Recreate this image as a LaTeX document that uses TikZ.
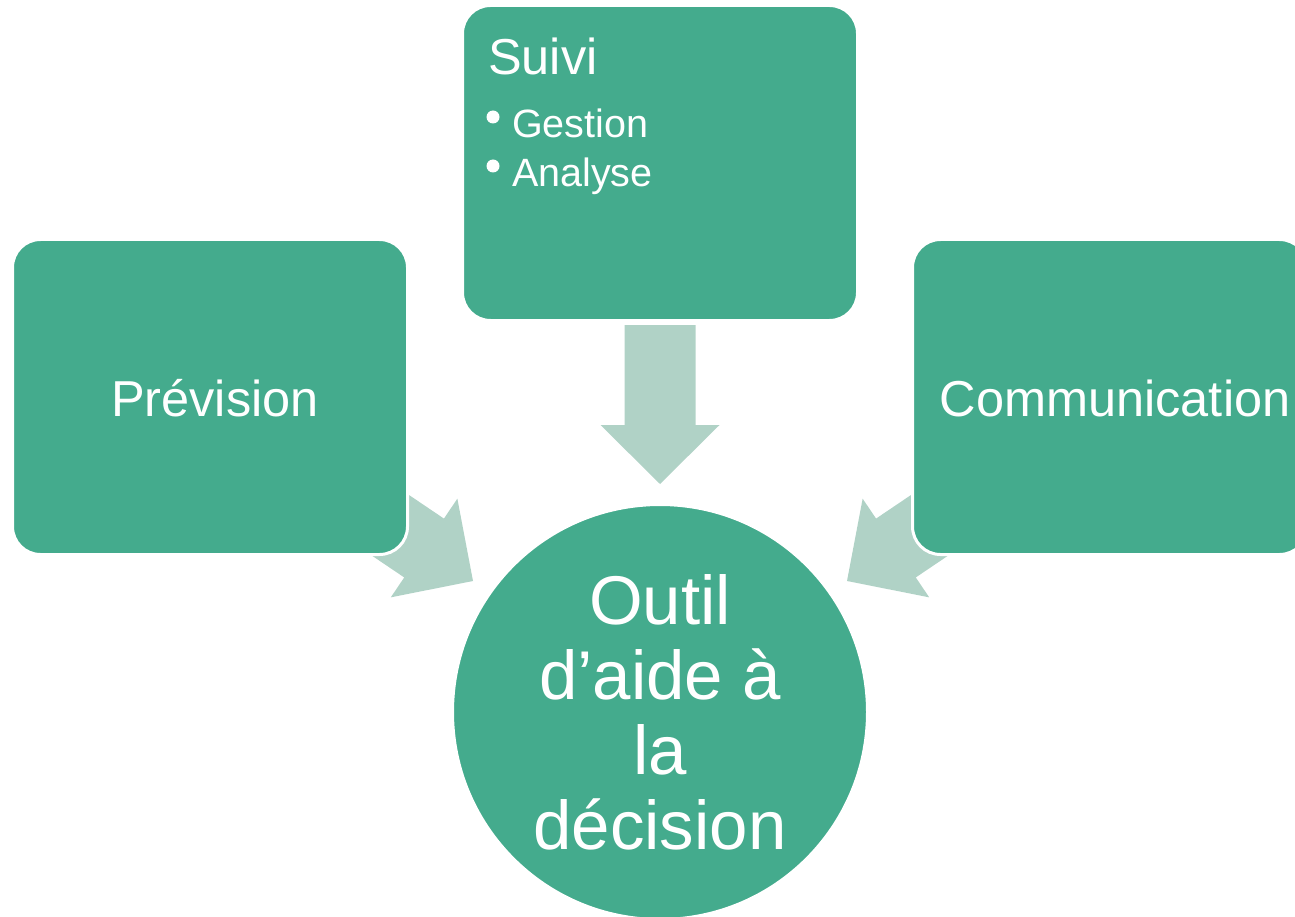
\documentclass[tikz,border=0pt]{standalone}
\usepackage{fontspec}
\setmainfont{Liberation Sans}
\definecolor{boxgreen}{RGB}{68,171,141}
\definecolor{arrowgreen}{RGB}{176,210,198}
\begin{document}
\begin{tikzpicture}[x=1pt,y=-1pt,
  panel/.style={draw=white, line width=3pt, fill=boxgreen, rounded corners=28pt,
    minimum width=395pt, minimum height=315pt, inner sep=0pt, outer sep=0pt, anchor=north west},
  hub/.style={circle, draw=white, line width=2pt, fill=boxgreen, minimum size=414pt,
    inner sep=0pt, text=white, align=center, font=\fontsize{69}{75}\selectfont},
  label/.style={text=white, inner sep=0pt, font=\fontsize{50.5}{60}\selectfont},
  item/.style={text=white, inner sep=0pt, anchor=base west, font=\fontsize{39.5}{48}\selectfont},
  blockarrow/.pic={\fill[arrowgreen] (0,0) -- (-59,-59.5) -- (-59,-35.5) -- (-159,-35.5)
    -- (-159,35.5) -- (-59,35.5) -- (-59,59.5) -- cycle;}
]
\useasboundingbox (0,0) rectangle (1295,917);
\clip (0,0) rectangle (1295,917);

% block arrows pointing into the hub, drawn first so the panels overlap them
\path (660,484) pic[rotate=-90] {blockarrow};
\path (473,581) pic[rotate=-34] {blockarrow};
\path (847,581) pic[rotate=-146] {blockarrow};

% panels
\node[panel] (suivi) at (462.5,5.5) {};
\node[panel] (prevision) at (12.5,239.5) {};
\node[panel] (communication) at (912.5,239.5) {};

% hub
\node[hub] (outil) at (660,712) {Outil\\d’aide à\\la\\décision};

% panel texts
\node[label, anchor=base] (tprev) at (215,416) {Prévision};
\node[label, anchor=base] (tcomm) at (1115,416) {Communication};
\node[label, anchor=base west] (tsuivi) at (488,75) {Suivi};
\fill[white] (493,117) circle (6.5);
\fill[white] (493,166) circle (6.5);
\node[item] (gestion) at (512,138) {Gestion};
\node[item] (analyse) at (512,187) {Analyse};
\end{tikzpicture}
\end{document}
